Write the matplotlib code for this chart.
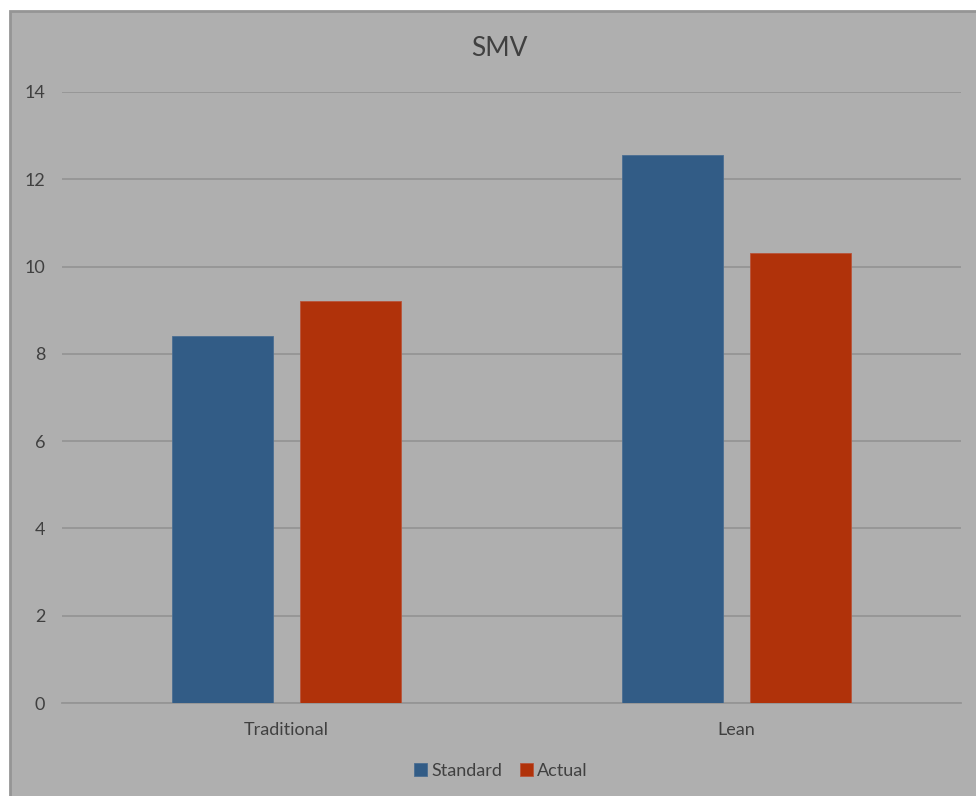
import matplotlib.pyplot as plt
import numpy as np
from matplotlib.patches import Rectangle

categories = ["Traditional", "Lean"]
series_names = ["Standard", "Actual"]
standard = [8.4, 12.55]
actual = [9.2, 10.3]
y_ticks = [0, 2, 4, 6, 8, 10, 12, 14]

bg = "#afafaf"
blue = "#325c86"
red = "#b0320a"
text_col = "#404040"

plt.rcParams["font.family"] = ["Lato", "DejaVu Sans"]

fig = plt.figure(figsize=(9.76, 7.96), dpi=100)
fig.patch.set_facecolor("white")
# grey chart area; only its left and top border fall inside the figure
fig.patches.append(Rectangle((10 / 976, -0.1), 1.2, 1.1 - 11 / 796, transform=fig.transFigure,
                             facecolor=bg, edgecolor="#959595", linewidth=2.0, zorder=-10))

ax = fig.add_axes([62 / 976, 1 - 703 / 796, (961 - 62) / 976, (703 - 92) / 796])
ax.set_zorder(5)
ax.set_facecolor("none")

x = np.arange(len(categories))
w = 0.225
off = 0.1424
ax.bar(x - off, standard, w, color=blue, edgecolor="#4a6e92", linewidth=0.6, zorder=3, label=series_names[0])
ax.bar(x + off, actual, w, color=red, edgecolor="#b9543a", linewidth=0.6, zorder=3, label=series_names[1])

ax.set_xlim(-0.5, 1.5)
ax.set_ylim(0, 14)
ax.set_yticks(y_ticks)
ax.set_xticks(x)
ax.set_xticklabels(categories)
ax.yaxis.grid(True, color="#959595", linewidth=1.3, zorder=0)
ax.set_axisbelow(True)
for s in ["top", "right", "left"]:
    ax.spines[s].set_visible(False)
ax.spines["bottom"].set_color("#959595")
ax.spines["bottom"].set_linewidth(1.3)
ax.tick_params(axis="y", length=0, pad=12, labelsize=13, labelcolor=text_col)
ax.tick_params(axis="x", length=0, pad=14, labelsize=13, labelcolor=text_col)

fig.text(499 / 976, 1 - 48 / 796, "SMV", ha="center", va="center", fontsize=19, color=text_col)

handles, labels = ax.get_legend_handles_labels()
fig.legend(handles, labels, loc="center", bbox_to_anchor=(501 / 976, 1 - 771 / 796), ncol=2,
           frameon=False, fontsize=13, handlelength=0.7, handleheight=0.7, handletextpad=0.25,
           columnspacing=1.0, labelcolor=text_col)

fig.savefig("out.png", dpi=100, facecolor=fig.get_facecolor())
